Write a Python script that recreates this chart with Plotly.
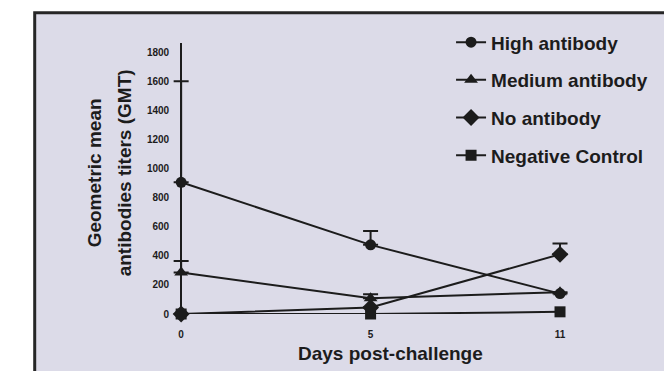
import plotly.graph_objects as go

days = ["0", "5", "11"]
series_names = ["High antibody", "Medium antibody", "No antibody", "Negative Control"]
high = [905, 475, 140]
medium = [285, 108, 150]
no_ab = [0, 45, 410]
neg_ctrl = [0, 0, 15]
high_err = [695, 95, 0]
medium_err = [80, 27, 0]
no_ab_err = [0, 0, 75]
neg_err = [0, 0, 0]
y_ticks = [0, 200, 400, 600, 800, 1000, 1200, 1400, 1600, 1800]

INK = "#1c1c1c"
BG = "#dcdbe8"
FONT = "Liberation Sans"

values = [high, medium, no_ab, neg_ctrl]
errors = [high_err, medium_err, no_ab_err, neg_err]
symbols = ["circle", "triangle-up", "diamond", "square"]
sizes = [11, 12, 13, 11]

fig = go.Figure()
for i, (name, vals, err, sym, sz) in enumerate(zip(series_names, values, errors, symbols, sizes)):
    fig.add_trace(go.Scatter(
        x=days, y=vals, name=name, mode="lines+markers",
        legendgroup=f"g{i}",
        line=dict(color=INK, width=2),
        marker=dict(symbol=sym, size=sz, color=INK),
        error_y=dict(type="data", symmetric=False, array=err,
                     arrayminus=[0] * len(err), color=INK, thickness=2, width=7.5,
                     visible=any(e > 0 for e in err)),
        cliponaxis=False,
    ))

OFF = 8  # page body margin
W, H = 672 - OFF, 371 - OFF
AX_X = 181 - OFF      # y-axis / day 0 position
ZERO_Y = 314 - OFF    # y = 0
TOP_Y = 42.7 - OFF
UNIT_X = 189.5
PX_PER_Y = 0.1457
X_START = -0.08
L = AX_X + X_START * UNIT_X
R = W - (600 - OFF)
T = TOP_Y
B = H - ZERO_Y
pw, ph = W - L - R, H - T - B


def px_x(p):
    return (p - OFF - L) / pw


def px_y(p):
    return (H - B - (p - OFF)) / ph


fig.add_shape(type="rect", xref="paper", yref="paper",
              x0=px_x(34.5), x1=px_x(720), y0=px_y(420), y1=px_y(12.5),
              fillcolor=BG, line=dict(color="#262626", width=3), layer="below")

fig.add_annotation(xref="paper", yref="paper", x=px_x(94), y=px_y(173),
                   text="Geometric mean", textangle=-90, showarrow=False,
                   xanchor="center", yanchor="middle",
                   font=dict(family=FONT, size=19, color=INK, weight=700))
fig.add_annotation(xref="paper", yref="paper", x=px_x(124), y=px_y(173),
                   text="antibodies titers (GMT)", textangle=-90, showarrow=False,
                   xanchor="center", yanchor="middle",
                   font=dict(family=FONT, size=19, color=INK, weight=700))
fig.add_annotation(xref="paper", yref="paper", x=px_x(390), y=px_y(354),
                   text="Days post-challenge", showarrow=False,
                   xanchor="center", yanchor="middle",
                   font=dict(family=FONT, size=19, color=INK, weight=700))

fig.update_layout(
    width=W, height=H,
    margin=dict(l=L, r=R, t=T, b=B, pad=0),
    paper_bgcolor="white",
    plot_bgcolor="rgba(0,0,0,0)",
    showlegend=True,
    legend=dict(x=px_x(451), y=px_y(23), xanchor="left", yanchor="top",
                bgcolor="rgba(0,0,0,0)", tracegroupgap=10,
                font=dict(family=FONT, size=19, color=INK, weight=700)),
    xaxis=dict(type="category", range=[X_START, X_START + pw / UNIT_X],
               showline=False, showgrid=False, zeroline=False, ticks="",
               ticklabelstandoff=13,
               tickfont=dict(family=FONT, size=10, color=INK, weight=700)),
    yaxis=dict(range=[0, ph / PX_PER_Y], tickvals=y_ticks,
               anchor="free", position=px_x(181),
               showline=True, linecolor=INK, linewidth=2,
               showgrid=False, zeroline=False, ticks="", ticklabelstandoff=9,
               tickfont=dict(family=FONT, size=10, color=INK, weight=700)),
)

fig.write_html("out.html")
